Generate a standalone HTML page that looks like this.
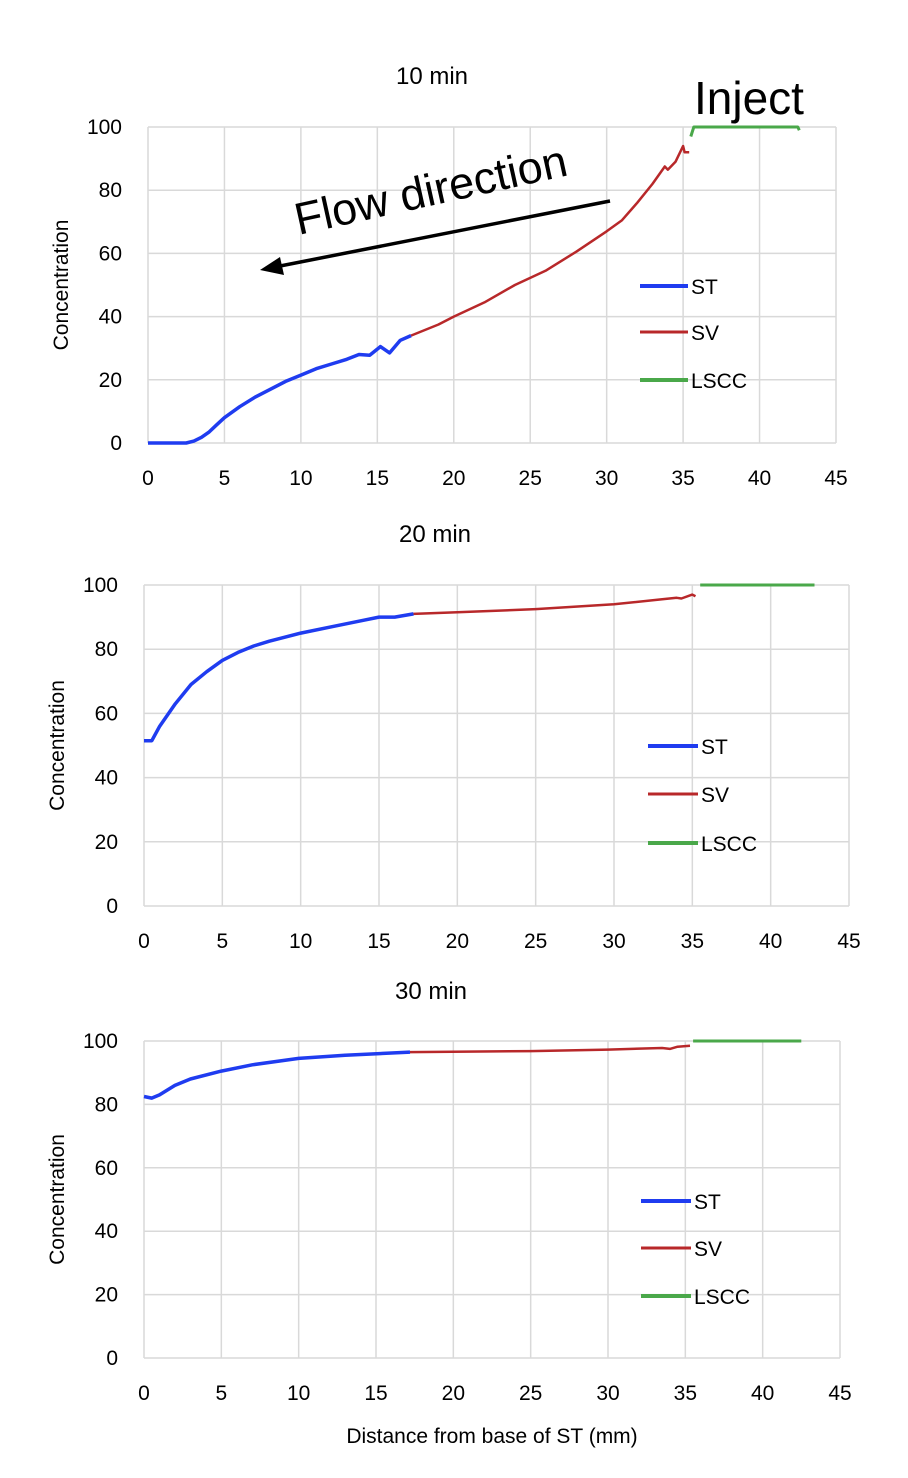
<!DOCTYPE html>
<html><head><meta charset="utf-8"><style>
html,body{margin:0;padding:0;background:#fff;}
svg{display:block;font-family:"Liberation Sans",sans-serif;}
</style></head><body>
<svg id="s" width="908" height="1478" xmlns="http://www.w3.org/2000/svg"></svg>
<script>
const S=document.getElementById('s');let h='';
const charts=[
 {x0:148,x45:836,y0:443,y100:127,title:'10 min',tx:432,ty:84,lx:[640,688],ly:[286,332,380],
  st:[[0,0],[2.5,0],[3,0.6],[3.5,1.8],[4,3.5],[4.5,5.8],[5,8],[6,11.5],[7,14.5],[8,17],[9,19.5],[10,21.5],[11,23.5],[12,25],[13,26.5],[13.8,28],[14.5,27.8],[15.2,30.5],[15.8,28.5],[16.5,32.5],[17.2,34]],
  sv:[[17.2,34],[19,37.5],[20,40],[22,44.5],[24,50],[26,54.5],[28,60.5],[30,67],[31,70.5],[32,76],[33,82],[33.8,87.5],[34,86.5],[34.5,89],[35,94],[35.1,92],[35.4,92]],
  ls:[[35.5,97],[35.7,100],[42.5,100],[42.6,99]]},
 {x0:144,x45:849,y0:906,y100:585,title:'20 min',tx:435,ty:542,lx:[648,698],ly:[746,794,843],
  st:[[0,51.5],[0.5,51.5],[1,56],[2,63],[3,69],[4,73],[5,76.5],[6,79],[7,81],[8,82.5],[10,85],[12,87],[14,89],[15,90],[16,90],[17.2,91]],
  sv:[[17.2,91],[20,91.5],[25,92.5],[30,94],[33,95.5],[34,96],[34.3,95.8],[35,97],[35.2,96.5]],
  ls:[[35.5,100],[42.8,100]]},
 {x0:144,x45:840,y0:1358,y100:1041,title:'30 min',tx:431,ty:999,lx:[641,691],ly:[1201,1248,1296],
  st:[[0,82.5],[0.5,82],[1,83],[2,86],[3,88],[5,90.5],[7,92.5],[10,94.5],[13,95.5],[17.2,96.5]],
  sv:[[17.2,96.5],[25,96.8],[30,97.3],[33.5,97.8],[34,97.5],[34.5,98.2],[35.3,98.5]],
  ls:[[35.5,100],[42.5,100]]}
];
charts.forEach(c=>{
 const X=v=>c.x0+v*(c.x45-c.x0)/45, Y=v=>c.y0-v*(c.y0-c.y100)/100;
 for(let i=0;i<=9;i++){h+=`<line x1="${X(i*5)}" y1="${c.y100}" x2="${X(i*5)}" y2="${c.y0}" stroke="#d9d9d9" stroke-width="1.5"/>`;
  h+=`<text x="${X(i*5)}" y="${c.y0+42}" font-size="21" text-anchor="middle">${i*5}</text>`;}
 for(let j=0;j<=5;j++){h+=`<line x1="${c.x0}" y1="${Y(j*20)}" x2="${c.x45}" y2="${Y(j*20)}" stroke="#d9d9d9" stroke-width="1.5"/>`;
  h+=`<text x="${c.x0-26}" y="${Y(j*20)+7}" font-size="21" text-anchor="end">${j*20}</text>`;}
 h+=`<text x="${c.tx}" y="${c.ty}" font-size="24" text-anchor="middle">${c.title}</text>`;
 const my=(c.y0+c.y100)/2;
 h+=`<text transform="translate(${c.x0-80},${my}) rotate(-90)" font-size="21" text-anchor="middle">Concentration</text>`;
 const pl=(d,col,w)=>`<polyline fill="none" stroke="${col}" stroke-width="${w}" stroke-linejoin="round" points="${d.map(p=>X(p[0]).toFixed(1)+','+Y(p[1]).toFixed(1)).join(' ')}"/>`;
 h+=pl(c.ls,'#4aa84a',3)+pl(c.sv,'#b8282a',2.5)+pl(c.st,'#1f3cf0',3.5);
 [['ST','#1f3cf0',4],['SV','#b8282a',3],['LSCC','#4aa84a',4]].forEach((l,k)=>{
  h+=`<line x1="${c.lx[0]}" y1="${c.ly[k]}" x2="${c.lx[1]}" y2="${c.ly[k]}" stroke="${l[1]}" stroke-width="${l[2]}"/>`;
  h+=`<text x="${c.lx[1]+3}" y="${c.ly[k]+8}" font-size="21">${l[0]}</text>`;});
});
h+=`<text x="694" y="114" font-size="46">Inject</text>`;
h+=`<text transform="translate(434,205) rotate(-12.5)" font-size="45" text-anchor="middle">Flow direction</text>`;
h+=`<line x1="610" y1="201" x2="275" y2="267" stroke="#000" stroke-width="3.5"/><polygon points="260,270 280,257 284,275" fill="#000"/>`;
h+=`<text x="492" y="1443" font-size="21" text-anchor="middle">Distance from base of ST (mm)</text>`;
S.innerHTML=h;
</script>
</body></html>
